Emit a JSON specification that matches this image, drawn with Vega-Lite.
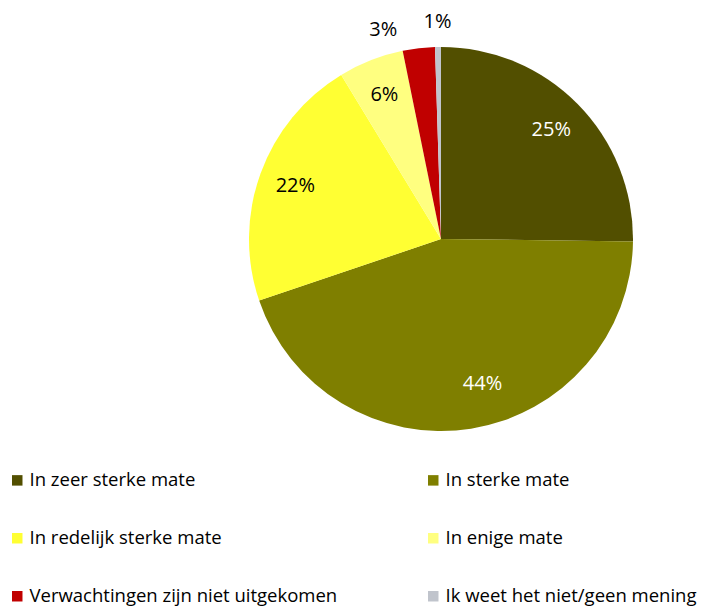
{
  "$schema": "https://vega.github.io/schema/vega-lite/v6.json",
  "width": 532,
  "height": 478,
  "autosize": {"type": "none"},
  "padding": {"left": 175, "top": 0, "right": 0, "bottom": 130},
  "background": "white",
  "config": {"view": {"stroke": null}, "font": "Open Sans"},
  "data": {"values": [
    {"cat": "In zeer sterke mate", "value": 25.2, "label_in": "25%", "label_big": "", "label_out": "", "label_side": "", "o": 1},
    {"cat": "In sterke mate", "value": 44.6, "label_in": "", "label_big": "44%", "label_out": "", "label_side": "", "o": 2},
    {"cat": "In redelijk sterke mate", "value": 21.5, "label_in": "22%", "label_big": "", "label_out": "", "label_side": "", "o": 3},
    {"cat": "In enige mate", "value": 5.5, "label_in": "6%", "label_big": "", "label_out": "", "label_side": "", "o": 4},
    {"cat": "Verwachtingen zijn niet uitgekomen", "value": 2.7, "label_in": "", "label_big": "", "label_out": "", "label_side": "3%", "o": 5},
    {"cat": "Ik weet het niet/geen mening", "value": 0.5, "label_in": "", "label_big": "", "label_out": "1%", "label_side": "", "o": 6}
  ]},
  "encoding": {
    "theta": {"field": "value", "type": "quantitative", "stack": true},
    "order": {"field": "o", "type": "quantitative"}
  },
  "layer": [
    {
      "mark": {"type": "arc", "outerRadius": 192},
      "encoding": {
        "color": {
          "field": "cat",
          "type": "nominal",
          "sort": null,
          "scale": {
            "domain": ["In zeer sterke mate", "In redelijk sterke mate", "Verwachtingen zijn niet uitgekomen", "In sterke mate", "In enige mate", "Ik weet het niet/geen mening"],
            "range": ["#524F00", "#FFFF33", "#C00000", "#7F7F00", "#FFFF80", "#C0C4CC"]
          },
          "legend": {
            "title": null,
            "orient": "none",
            "legendX": -167,
            "legendY": 471,
            "columns": 2,
            "symbolType": "square",
            "symbolSize": 110,
            "symbolStrokeWidth": 0,
            "labelFontSize": 18.5,
            "labelColor": "#000000",
            "labelOffset": 3,
            "labelLimit": 400,
            "columnPadding": 86,
            "rowPadding": 39
          }
        }
      }
    },
    {
      "mark": {"type": "text", "radius": 155, "fontSize": 20},
      "encoding": {
        "text": {"field": "label_in"},
        "color": {"condition": {"test": "datum.o <= 2", "value": "#FFFFFF"}, "value": "#000000"}
      }
    },
    {
      "mark": {"type": "text", "radius": 150, "fontSize": 20, "color": "#FFFFFF", "dx": 18, "dy": -3},
      "encoding": {"text": {"field": "label_big"}}
    },
    {
      "mark": {"type": "text", "radius": 217, "fontSize": 20, "color": "#000000"},
      "encoding": {"text": {"field": "label_out"}}
    },
    {
      "mark": {"type": "text", "radius": 214, "fontSize": 20, "color": "#000000", "dx": -33, "dy": 4},
      "encoding": {"text": {"field": "label_side"}}
    }
  ]
}
